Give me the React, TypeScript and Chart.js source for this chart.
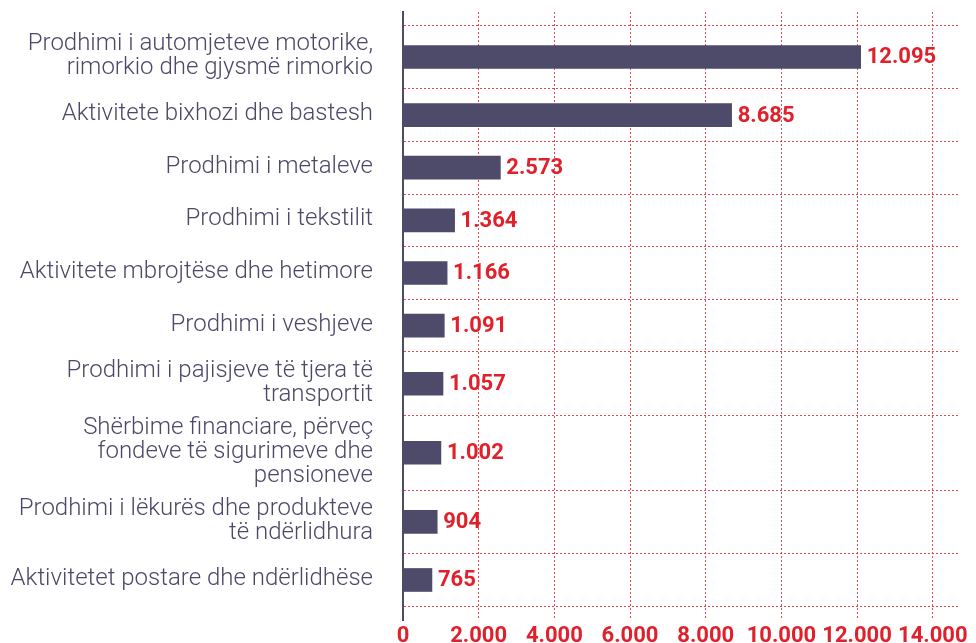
import React, { useEffect, useRef } from "react";
import { Chart, registerables } from "chart.js";

Chart.register(...registerables);

// ---- data ----
const categories: string[][] = [
  ["Prodhimi i automjeteve motorike,", "rimorkio dhe gjysmë rimorkio"],
  ["Aktivitete bixhozi dhe bastesh"],
  ["Prodhimi i metaleve"],
  ["Prodhimi i tekstilit"],
  ["Aktivitete mbrojtëse dhe hetimore"],
  ["Prodhimi i veshjeve"],
  ["Prodhimi i pajisjeve të tjera të", "transportit"],
  ["Shërbime financiare, përveç", "fondeve të sigurimeve dhe", "pensioneve"],
  ["Prodhimi i lëkurës dhe produkteve", "të ndërlidhura"],
  ["Aktivitetet postare dhe ndërlidhëse"],
];
const values: number[] = [12095, 8685, 2573, 1364, 1166, 1091, 1057, 1002, 904, 765];
const xTicks: number[] = [0, 2000, 4000, 6000, 8000, 10000, 12000, 14000];

const BAR = "#4e4a6a";
const RED = "#e0202a";
const LABEL = "#4b4868";
const GRID = "rgba(226,40,50,0.85)";

const fmt = (n: number) => String(n).replace(/\B(?=(\d{3})+(?!\d))/g, ".");

// row layout: each row gets height according to its number of label lines
const rowUnits = categories.map((l) => 3.8 + l.length);
const bounds: number[] = [0];
rowUnits.forEach((u) => bounds.push(bounds[bounds.length - 1] + u));
const centers = rowUnits.map((u, i) => bounds[i] + u / 2);
const total = bounds[bounds.length - 1];

export default function App() {
  const ref = useRef<HTMLCanvasElement | null>(null);

  useEffect(() => {
    if (!ref.current) return;
    const labelPlugin = {
      id: "labels",
      afterDatasetsDraw(chart: any) {
        const { ctx } = chart;
        const ys = chart.scales.y;
        const xs = chart.scales.x;
        ctx.save();
        // category labels
        ctx.font = '300 24px Roboto';
        ctx.fillStyle = LABEL;
        ctx.textAlign = "right";
        ctx.textBaseline = "middle";
        categories.forEach((lines, i) => {
          const cy = ys.getPixelForValue(centers[i]);
          lines.forEach((line, j) => {
            ctx.fillText(line, 373, cy - 1 + (j - (lines.length - 1) / 2) * 24);
          });
        });
        // value labels
        ctx.font = 'bold 22px Roboto';
        ctx.fillStyle = RED;
        ctx.textAlign = "left";
        values.forEach((v, i) => {
          const cy = ys.getPixelForValue(centers[i]);
          const x = xs.getPixelForValue(v);
          ctx.fillText(fmt(v), x + 6, cy + 1);
        });
        ctx.restore();
      },
    };

    const chart = new Chart(ref.current, {
      type: "bar",
      data: {
        datasets: [
          {
            data: values.map((v, i) => ({ x: v, y: centers[i] })),
            backgroundColor: BAR,
            barThickness: 23,
          } as any,
        ],
      },
      options: {
        indexAxis: "y",
        animation: false,
        responsive: false,
        maintainAspectRatio: false,
        layout: { padding: { top: 12, right: 16, left: 0, bottom: 0 } },
        plugins: { legend: { display: false }, tooltip: { enabled: false } },
        scales: {
          x: {
            type: "linear",
            min: 0,
            max: 14720,
            offset: false,
            grid: { color: GRID, lineWidth: 1, drawTicks: false },
            border: { display: false, dash: [2, 2] },
            ticks: {
              color: RED,
              font: { family: "Roboto", size: 22, weight: "bold" },
              padding: 3,
              callback: (v: any) => fmt(Number(v)),
            },
            afterBuildTicks: (s: any) => {
              s.ticks = xTicks.map((v) => ({ value: v }));
            },
            afterFit: (s: any) => {
              s.height = 23;
            },
          },
          y: {
            type: "linear",
            reverse: true,
            offset: false,
            min: -1.2,
            max: total + 1.25,
            grid: { color: GRID, lineWidth: 1, drawTicks: false, offset: false },
            border: { display: true, color: BAR, width: 2, dash: [2, 2] },
            ticks: { display: false },
            afterBuildTicks: (s: any) => {
              s.ticks = bounds.map((v) => ({ value: v }));
            },
            afterFit: (s: any) => {
              s.width = 403;
            },
          },
        },
      } as any,
      plugins: [labelPlugin],
    });
    return () => chart.destroy();
  }, []);

  return (
    <div style={{ position: "fixed", left: 0, top: 0, width: 976, height: 643, background: "#fff", overflow: "hidden" }}>
      <canvas ref={ref} width={976} height={643} style={{ width: 976, height: 643, display: "block" }} />
    </div>
  );
}
